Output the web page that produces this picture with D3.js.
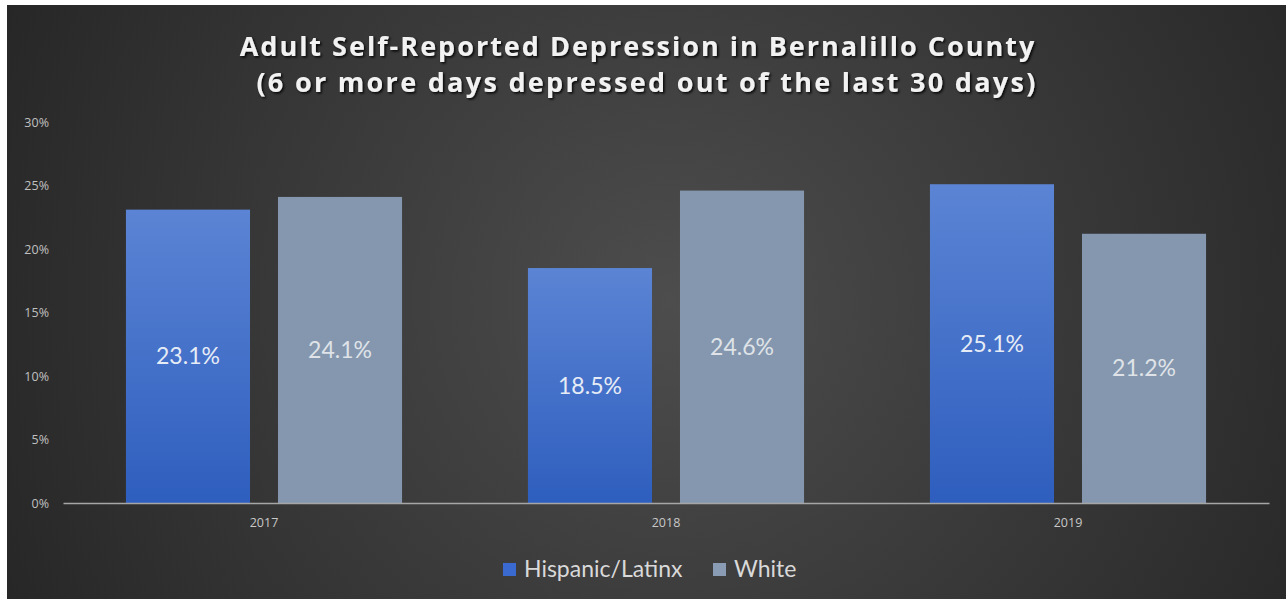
<!DOCTYPE html>
<html>
<head>
<meta charset="utf-8">
<script src="https://cdn.jsdelivr.net/npm/d3@7"></script>
<style>
  body { margin: 0; background: #ffffff; }
  svg { display: block; }
</style>
</head>
<body>
<svg id="chart"></svg>
<script>
const years = ["2017", "2018", "2019"]
const series = ["Hispanic/Latinx", "White"]
const hispanicValues = [23.1, 18.5, 25.1]
const whiteValues = [24.1, 24.6, 21.2]
const yTicks = [0, 5, 10, 15, 20, 25, 30]
const titleLines = ["Adult Self-Reported Depression in Bernalillo County", "(6 or more days depressed out of the last 30 days)"]

const dimensions = {
	width: 1286,
	height: 599,
	margin: { top: 122, right: 17, bottom: 96, left: 63 },
}

const svg = d3.select("#chart")
	.attr("width", dimensions.width)
	.attr("height", dimensions.height)

const defs = svg.append("defs")

const bg = defs.append("radialGradient")
	.attr("id", "bg")
	.attr("cx", "52%").attr("cy", "50%").attr("r", "60%")
	.attr("gradientTransform", "translate(0.5,0.5) scale(1,2.1) translate(-0.5,-0.5)")
bg.append("stop").attr("offset", "0%").attr("stop-color", "#4d4d4d")
bg.append("stop").attr("offset", "100%").attr("stop-color", "#252525")

const blueGrad = defs.append("linearGradient")
	.attr("id", "blueGrad").attr("x1", 0).attr("y1", 0).attr("x2", 0).attr("y2", 1)
blueGrad.append("stop").attr("offset", "0%").attr("stop-color", "#5b84d4")
blueGrad.append("stop").attr("offset", "100%").attr("stop-color", "#2e5ebe")

const shadow = defs.append("filter").attr("id", "shadow")
	.attr("x", "-5%").attr("y", "-20%").attr("width", "110%").attr("height", "140%")
shadow.append("feDropShadow")
	.attr("dx", 1.5).attr("dy", 1.5).attr("stdDeviation", 1.2)
	.attr("flood-color", "#000").attr("flood-opacity", 0.9)

// dark chart area (white margin at top/left like the screenshot)
svg.append("rect")
	.attr("x", 7).attr("y", 5)
	.attr("width", dimensions.width - 7)
	.attr("height", dimensions.height - 5)
	.attr("fill", "url(#bg)")

const x0 = d3.scaleBand()
	.domain(years)
	.range([dimensions.margin.left, dimensions.width - dimensions.margin.right])
	.paddingInner(0).paddingOuter(0)

const x1 = d3.scaleBand()
	.domain(series)
	.range([0, x0.bandwidth()])
	.paddingInner(0.184).paddingOuter(0.414)

const yScale = d3.scaleLinear()
	.domain([0, 30])
	.range([503, 122])

const data = years.map((yr, i) => ({
	year: yr,
	values: [
		{ key: series[0], value: hispanicValues[i] },
		{ key: series[1], value: whiteValues[i] },
	]
}))

const fills = { "Hispanic/Latinx": "url(#blueGrad)", "White": "#8597ae" }
const legendFills = { "Hispanic/Latinx": "#3a6ad0", "White": "#8a9cb4" }

// y axis labels only
const yAxis = d3.axisLeft(yScale)
	.tickValues(yTicks)
	.tickFormat(d => d + "%")
	.tickSize(0)
	.tickPadding(0)
const yAxisGroup = svg.append("g")
	.attr("transform", "translate(49,0)")
	.call(yAxis)
yAxisGroup.select(".domain").remove()
yAxisGroup.selectAll("text")
	.attr("fill", "#c0c0c0")
	.attr("font-family", "'Open Sans', sans-serif")
	.attr("font-size", "12.5px")

const groups = svg.append("g")
	.selectAll("g")
	.data(data)
	.enter()
	.append("g")
	.attr("transform", d => `translate(${x0(d.year)},0)`)

groups.selectAll("rect")
	.data(d => d.values)
	.enter()
	.append("rect")
	.attr("x", d => x1(d.key))
	.attr("y", d => yScale(d.value))
	.attr("width", x1.bandwidth())
	.attr("height", d => yScale(0) - yScale(d.value))
	.attr("fill", d => fills[d.key])

groups.selectAll("text")
	.data(d => d.values)
	.enter()
	.append("text")
	.attr("x", d => x1(d.key) + x1.bandwidth() / 2)
	.attr("y", d => (yScale(d.value) + yScale(0)) / 2 + 8)
	.attr("text-anchor", "middle")
	.attr("font-family", "Lato, sans-serif")
	.attr("font-size", "23px")
	.attr("fill", d => d.key === "White" ? "#dfe3e8" : "#e6ecf6")
	.text(d => d.value.toFixed(1) + "%")

// x axis
const xAxis = d3.axisBottom(x0).tickSize(0).tickPadding(15)
const xAxisGroup = svg.append("g")
	.attr("transform", `translate(0,${yScale(0)})`)
	.call(xAxis)
xAxisGroup.select(".domain").attr("stroke", "#a6a6a6").attr("stroke-width", 1.3)
xAxisGroup.selectAll("text")
	.attr("fill", "#c8c8c8")
	.attr("font-family", "'Open Sans', sans-serif")
	.attr("font-size", "12.5px")

// title
svg.append("g")
	.selectAll("text")
	.data(titleLines)
	.enter()
	.append("text")
	.attr("x", (d, i) => i === 0 ? 638 : 647)
	.attr("y", (d, i) => 56 + i * 36)
	.attr("text-anchor", "middle")
	.attr("font-family", "'Open Sans', sans-serif")
	.attr("font-weight", "bold")
	.attr("font-size", "27px")
	.attr("letter-spacing", (d, i) => i === 0 ? "2px" : "2.3px")
	.attr("fill", "#f2f2f2")
	.attr("filter", "url(#shadow)")
	.text(d => d)

// legend
const legendItems = [
	{ key: series[0], x: 503 },
	{ key: series[1], x: 713 },
]
const legend = svg.append("g")
	.selectAll("g")
	.data(legendItems)
	.enter()
	.append("g")
	.attr("transform", d => `translate(${d.x},563)`)
legend.append("rect")
	.attr("width", 13).attr("height", 13)
	.attr("fill", d => legendFills[d.key])
legend.append("text")
	.attr("x", 21).attr("y", 14)
	.attr("font-family", "Lato, sans-serif")
	.attr("font-size", "23px")
	.attr("fill", "#d9d9d9")
	.text(d => d.key)
</script>
</body>
</html>
